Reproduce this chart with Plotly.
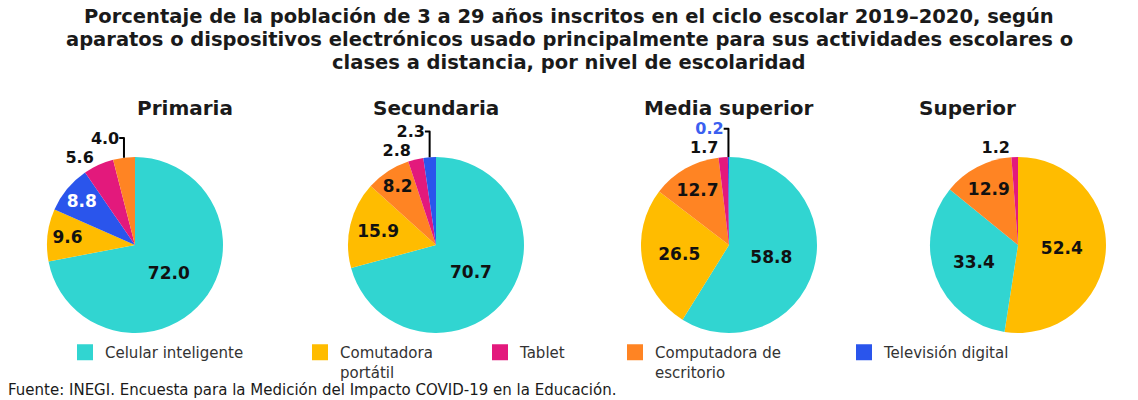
import plotly.graph_objects as go

# Data
niveles = ['Primaria', 'Secundaria', 'Media superior', 'Superior']
aparatos = ['Celular inteligente', 'Comutadora portátil', 'Tablet',
            'Computadora de escritorio', 'Televisión digital']
legend_names = ['Celular inteligente', 'Comutadora<br>portátil', 'Tablet',
                'Computadora de<br>escritorio', 'Televisión digital']

primaria = [72.0, 9.6, 5.6, 4.0, 8.8]
secundaria = [70.7, 15.9, 2.8, 8.2, 2.3]
media_superior = [58.8, 26.5, 1.7, 12.7, 0.2]
superior = [33.4, 52.4, 1.2, 12.9, None]

colores = ['#31D5D1', '#FFBC00', '#E3197C', '#FF8423', '#2A55EC']

titulo = ['Porcentaje de la población de 3 a 29 años inscritos en el ciclo escolar 2019–2020, según',
          'aparatos o dispositivos electrónicos usado principalmente para sus actividades escolares o',
          'clases a distancia, por nivel de escolaridad']
fuente = 'Fuente: INEGI. Encuesta para la Medición del Impacto COVID-19 en la Educación.'

W, H = 1138, 400
centros = [135, 436, 729, 1018]
cy, r = 245, 88
FONT = 'DejaVu Sans'

# label colors that differ from black
color_texto = {
    'Primaria': {'Televisión digital': 'white'},
    'Media superior': {'Televisión digital': '#3B5FF0'},
}

fig = go.Figure()

for nivel, vals, cx in zip(niveles, [primaria, secundaria, media_superior, superior], centros):
    tcol = [color_texto.get(nivel, {}).get(a, '#111111') for a in aparatos]
    tpos = ['outside' if (v is not None and v < 6) else 'inside' for v in vals]
    fig.add_trace(go.Pie(
        labels=aparatos, values=vals,
        marker=dict(colors=colores),
        direction='clockwise', sort=True,
        texttemplate='%{value:.1f}',
        textposition=tpos,
        insidetextorientation='horizontal',
        textfont=dict(family=FONT, size=17, color=tcol, weight='bold'),
        outsidetextfont=dict(family=FONT, size=16, color=tcol, weight='bold'),
        showlegend=False, hoverinfo='label+value',
        domain=dict(x=[(cx - r) / W, (cx + r) / W], y=[1 - (cy + r) / H, 1 - (cy - r) / H]),
    ))
    fig.add_annotation(x=cx / W, y=1 - 108 / H, xref='paper', yref='paper', yanchor='middle',
                       text='<b>' + nivel + '</b>', showarrow=False,
                       font=dict(family=FONT, size=20, color='#1a1a1a'))

# title, one annotation per line
for i, linea in enumerate(titulo):
    fig.add_annotation(x=0.5, y=1 - (17 + 23 * i) / H, xref='paper', yref='paper', yanchor='middle',
                       text='<b>' + linea + '</b>', showarrow=False,
                       font=dict(family=FONT, size=19.5, color='#1a1a1a'))

# legend entries, each in its own legend box to follow the original spacing
leg_x = [65, 300, 480, 615, 844]
legends = {}
for i, (nombre, col) in enumerate(zip(legend_names, colores)):
    key = 'legend' if i == 0 else 'legend%d' % (i + 1)
    fig.add_trace(go.Scatter(x=[None], y=[None], mode='markers', name=nombre, legend=key,
                             marker=dict(symbol='square', size=16, color=col)))
    legends[key] = dict(x=leg_x[i] / W, xanchor='left', y=1 - 336 / H, yanchor='top',
                        valign='top', font=dict(family=FONT, size=15, color='#333333'),
                        bgcolor='rgba(0,0,0,0)')

fig.add_annotation(x=6 / W, y=1 - 390 / H, xref='paper', yref='paper', xanchor='left',
                   yanchor='middle', text=fuente, showarrow=False,
                   font=dict(family=FONT, size=15, color='#1a1a1a'))

fig.update_layout(
    width=W, height=H,
    margin=dict(l=0, r=0, t=0, b=0),
    paper_bgcolor='white', plot_bgcolor='white',
    xaxis=dict(visible=False), yaxis=dict(visible=False),
    **legends,
)

# drop the default page margin so the figure sits at the window's corner
fig.write_html('out.html', config={'displayModeBar': False},
               post_script="document.body.style.margin='0';")
